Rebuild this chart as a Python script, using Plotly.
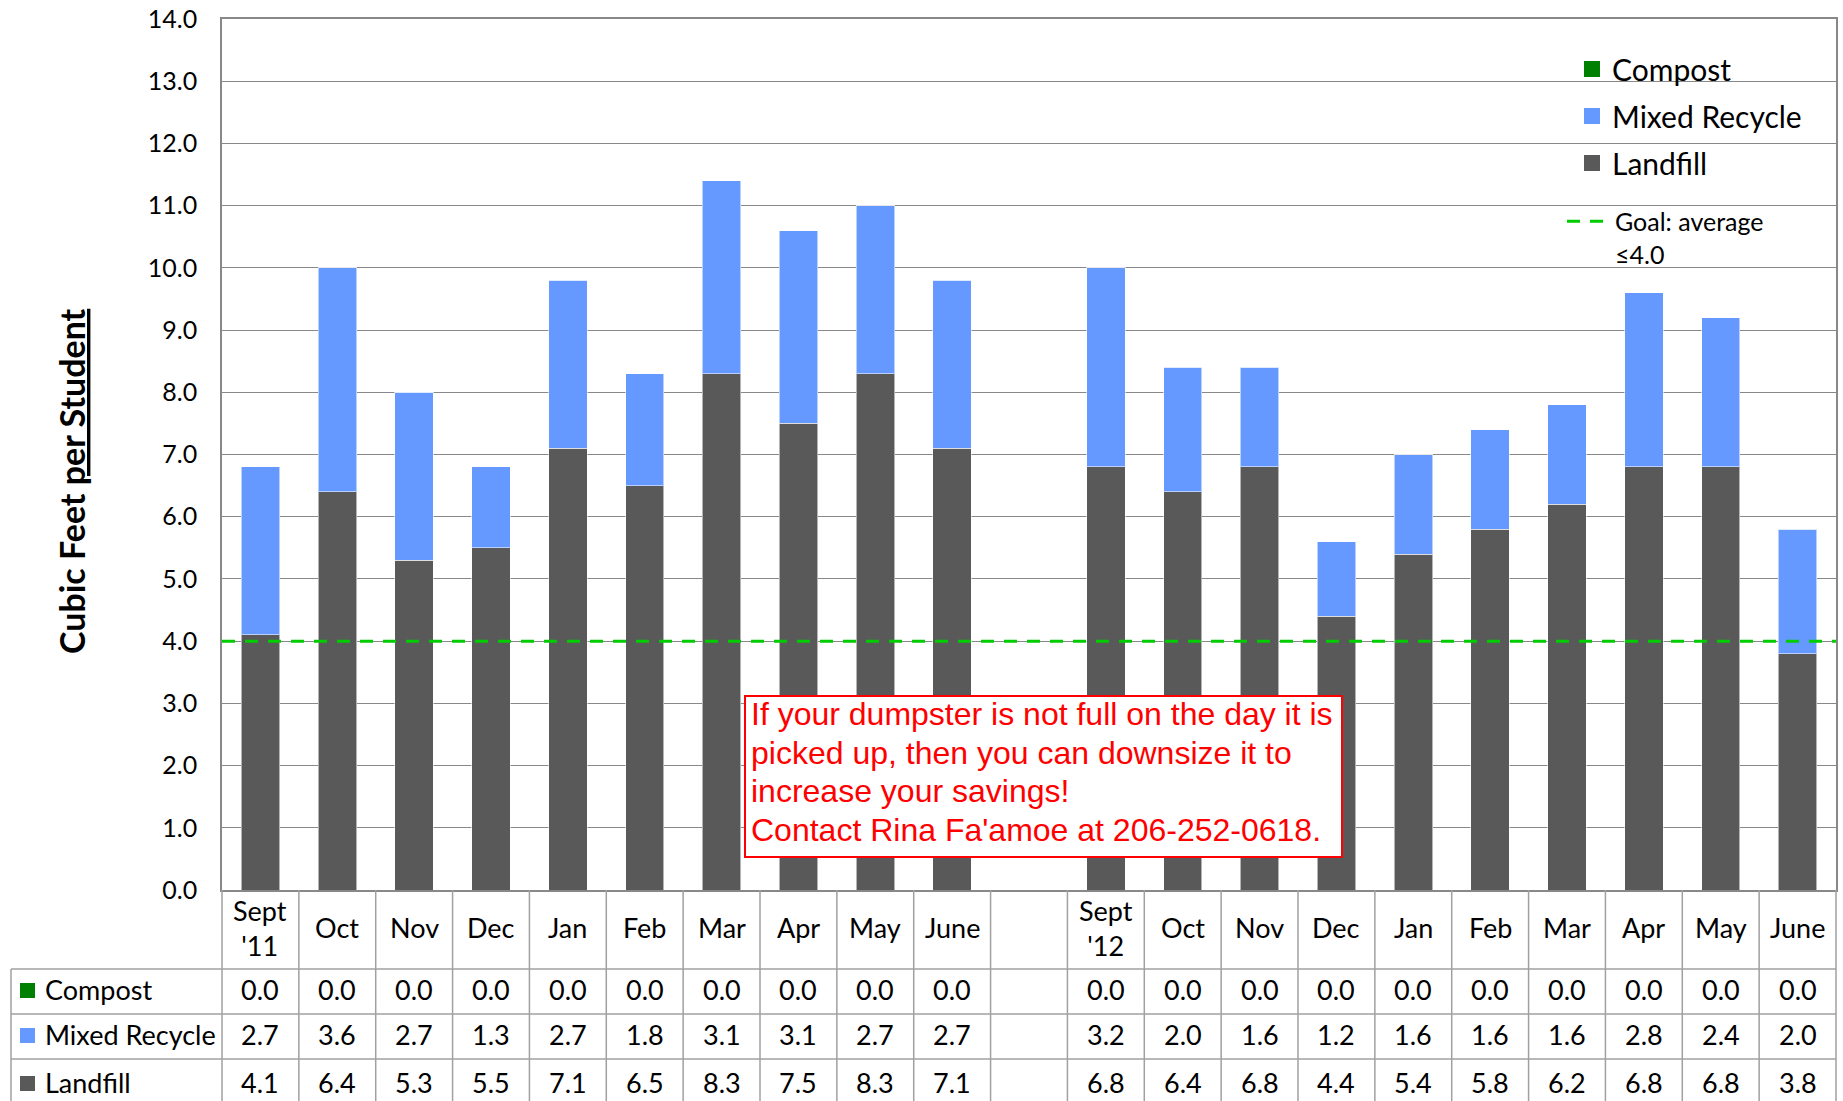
import plotly.graph_objects as go

# ---------------- data ----------------
MONTHS_1 = ["Sept<br>'11", "Oct", "Nov", "Dec", "Jan", "Feb", "Mar", "Apr", "May", "June"]
MONTHS_2 = ["Sept<br>'12", "Oct", "Nov", "Dec", "Jan", "Feb", "Mar", "Apr", "May", "June"]

COMPOST_1 = [0.0, 0.0, 0.0, 0.0, 0.0, 0.0, 0.0, 0.0, 0.0, 0.0]
RECYCLE_1 = [2.7, 3.6, 2.7, 1.3, 2.7, 1.8, 3.1, 3.1, 2.7, 2.7]
LANDFILL_1 = [4.1, 6.4, 5.3, 5.5, 7.1, 6.5, 8.3, 7.5, 8.3, 7.1]

COMPOST_2 = [0.0, 0.0, 0.0, 0.0, 0.0, 0.0, 0.0, 0.0, 0.0, 0.0]
RECYCLE_2 = [3.2, 2.0, 1.6, 1.2, 1.6, 1.6, 1.6, 2.8, 2.4, 2.0]
LANDFILL_2 = [6.8, 6.4, 6.8, 4.4, 5.4, 5.8, 6.2, 6.8, 6.8, 3.8]

GOAL = 4.0
Y_TICKS = [0, 1, 2, 3, 4, 5, 6, 7, 8, 9, 10, 11, 12, 13, 14]

SERIES_NAMES = ["Compost", "Mixed Recycle", "Landfill"]
NOTE_LINES = ["If your dumpster is not full on the day it is",
              "picked up, then you can downsize it to",
              "increase your savings!",
              "Contact Rina Fa'amoe at 206-252-0618."]

# ---------------- styles ----------------
C_COMPOST = "#008000"
C_RECYCLE = "#6699FF"
C_LANDFILL = "#595959"
C_GOAL = "#00CC00"
C_GRID = "#888888"
C_TABLE = "#A0A0A0"
FONT = "Lato"
COLORS = {"Compost": C_COMPOST, "Mixed Recycle": C_RECYCLE, "Landfill": C_LANDFILL}

# combine the two school years with one empty slot between them
CATS = MONTHS_1 + [""] + MONTHS_2
compost = COMPOST_1 + [None] + COMPOST_2
recycle = RECYCLE_1 + [None] + RECYCLE_2
landfill = LANDFILL_1 + [None] + LANDFILL_2
xpos = list(range(len(CATS)))
N = len(CATS)

W, H = 1843, 1101
ML, MR, MT, MB = 222, 7, 19, 211
PW, PH = W - ML - MR, H - MT - MB


def py(px):  # page pixel row -> paper y
    return (H - MB - px) / PH


def pxx(px):  # page pixel col -> paper x
    return (px - ML) / PW


fig = go.Figure()

bar_line = dict(color="rgba(255,255,255,0.55)", width=1)
fig.add_trace(go.Bar(x=xpos, y=landfill, name="Landfill", marker=dict(color=C_LANDFILL, line=bar_line),
                     showlegend=False))
fig.add_trace(go.Bar(x=xpos, y=recycle, name="Mixed Recycle", marker=dict(color=C_RECYCLE, line=bar_line),
                     showlegend=False))
fig.add_trace(go.Bar(x=xpos, y=compost, name="Compost", marker=dict(color=C_COMPOST, line=bar_line),
                     showlegend=False))

# legend entries (square swatches)
for nm in SERIES_NAMES:
    fig.add_trace(go.Scatter(x=[None], y=[None], mode="markers", name=nm, legendgroup=nm,
                             marker=dict(symbol="square", size=16, color=COLORS[nm]),
                             legend="legend"))

fig.add_trace(go.Scatter(x=[None], y=[None], mode="lines", name="Goal: average<br>≤4.0",
                         line=dict(color=C_GOAL, width=3, dash="13px,10px"), legend="legend2"))

shapes = []
# white box behind legend
shapes.append(dict(type="rect", xref="paper", yref="paper", x0=pxx(1555), x1=pxx(1820),
                   y0=py(195), y1=py(45), fillcolor="white", line=dict(width=0), layer="between"))
# goal line
shapes.append(dict(type="line", xref="paper", yref="y", x0=0, x1=1, y0=GOAL, y1=GOAL,
                   line=dict(color=C_GOAL, width=3, dash="13px,10px"), layer="above"))

# ---------------- data table ----------------
row_edges_px = [H - MB, 969, 1014, 1059, 1110]
row_edges = [py(p) for p in row_edges_px]
head_left = pxx(11)
tl = dict(color=C_TABLE, width=1.5)
for i in range(N + 1):
    xv = i / N
    shapes.append(dict(type="line", xref="paper", yref="paper", x0=xv, x1=xv,
                       y0=row_edges[0], y1=row_edges[-1], line=tl))
for e in row_edges[1:-1]:
    shapes.append(dict(type="line", xref="paper", yref="paper", x0=head_left, x1=1,
                       y0=e, y1=e, line=tl))
shapes.append(dict(type="line", xref="paper", yref="paper", x0=head_left, x1=head_left,
                   y0=row_edges[1], y1=row_edges[-1], line=tl))

annotations = []
tfont = dict(family=FONT, size=27, color="black")
cat_y = (row_edges[0] + row_edges[1]) / 2
for x, c in zip(xpos, CATS):
    if c:
        annotations.append(dict(x=x, y=cat_y, xref="x", yref="paper", text=c, showarrow=False,
                                font=tfont, xanchor="center", yanchor="middle", yshift=2))

rows = [("Compost", compost), ("Mixed Recycle", recycle), ("Landfill", landfill)]
for r, (nm, vals) in enumerate(rows):
    yc = (row_edges[r + 1] + row_edges[r + 2]) / 2
    for x, v in zip(xpos, vals):
        if v is not None:
            annotations.append(dict(x=x, y=yc, xref="x", yref="paper", text=f"{v:.1f}",
                                    showarrow=False, font=tfont, xanchor="center", yanchor="middle",
                                    yshift=2))
    annotations.append(dict(x=pxx(43), y=yc, xref="paper", yref="paper", text=nm, showarrow=False,
                            font=tfont, xanchor="left", yanchor="middle", yshift=2))
    half = 7.5 / PH
    shapes.append(dict(type="rect", xref="paper", yref="paper", x0=pxx(20), x1=pxx(35),
                       y0=yc - half + 1 / PH, y1=yc + half + 1 / PH, fillcolor=COLORS[nm],
                       line=dict(width=0)))

# y-axis title
annotations.append(dict(x=pxx(71), y=py(481), xref="paper", yref="paper",
                        text="<b>Cubic Feet <u>per Student</u></b>", textangle=-90, showarrow=False,
                        font=dict(family=FONT, size=34, color="black"),
                        xanchor="center", yanchor="middle"))

# note box
shapes.append(dict(type="rect", xref="paper", yref="paper", x0=pxx(745), x1=pxx(1342),
                   y0=py(857), y1=py(696), fillcolor="white",
                   line=dict(color="#FF0000", width=2), layer="above"))
note_centers_px = [714, 752.5, 791, 829.5]
for line_txt, cy in zip(NOTE_LINES, note_centers_px):
    annotations.append(dict(x=pxx(749), y=py(cy), xref="paper", yref="paper", text=line_txt,
                            showarrow=False, align="left", xanchor="left", yanchor="middle",
                            font=dict(family="Liberation Sans, Arial", size=32, color="#FF0000")))

fig.update_layout(
    width=W, height=H,
    margin=dict(l=ML, r=MR, t=MT, b=MB, autoexpand=False),
    paper_bgcolor="white", plot_bgcolor="white",
    barmode="stack", bargap=0.5,
    font=dict(family=FONT, color="black"),
    xaxis=dict(range=[-0.5, N - 0.5], showticklabels=False, showgrid=False, zeroline=False,
               showline=True, linecolor=C_GRID, linewidth=1.5, mirror=True, ticks=""),
    yaxis=dict(range=[0, 14], tickvals=Y_TICKS, ticktext=[f"{v:.1f}" for v in Y_TICKS],
               showgrid=True, gridcolor=C_GRID, gridwidth=1, zeroline=False,
               showline=True, linecolor=C_GRID, linewidth=1.5, mirror=True,
               ticks="outside", ticklen=18, tickcolor="rgba(0,0,0,0)",
               tickfont=dict(family=FONT, size=25, color="black")),
    legend=dict(x=pxx(1572), y=py(43), xanchor="left", yanchor="top", bgcolor="rgba(0,0,0,0)",
                font=dict(family=FONT, size=30, color="black"), traceorder="grouped",
                tracegroupgap=5, itemwidth=30),
    legend2=dict(x=pxx(1562), y=py(198.5), xanchor="left", yanchor="top", bgcolor="rgba(0,0,0,0)",
                 font=dict(family=FONT, size=25, color="black"), itemwidth=43, valign="top"),
    shapes=shapes,
    annotations=annotations,
)

fig.write_html("out.html", config={"displayModeBar": False},
               post_script="document.body.style.margin='0';document.body.style.overflow='hidden';")
